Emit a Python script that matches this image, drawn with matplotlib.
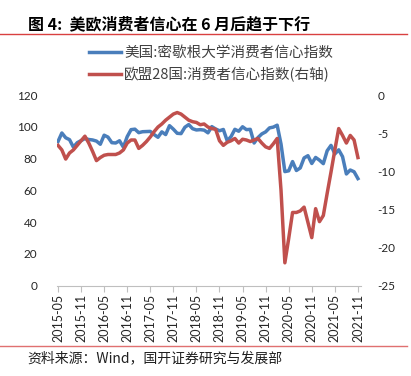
import numpy as np
import matplotlib
matplotlib.use('Agg')
import matplotlib.pyplot as plt
from matplotlib.lines import Line2D
from matplotlib.ticker import FuncFormatter

plt.rcParams['font.family'] = ['Lato', 'Noto Sans CJK SC', 'DejaVu Sans']
plt.rcParams['axes.unicode_minus'] = False

# 美国：密歇根大学消费者信心指数 (2015-05 ~ 2021-11, 月度)
us_sentiment = [90.7, 96.1, 93.1, 91.9, 87.2, 90.0, 91.3, 92.6,
                92.0, 91.7, 91.0, 89.0, 94.7, 93.5, 90.0, 89.8, 91.2, 87.2, 93.8, 98.2,
                98.5, 96.3, 96.9, 97.0, 97.1, 95.1, 93.4, 96.8, 95.1, 100.7, 98.5, 95.9,
                95.7, 99.7, 101.4, 98.8, 98.0, 98.2, 97.9, 96.2, 100.1, 98.6, 97.5, 98.3,
                91.2, 93.8, 98.4, 97.2, 100.0, 98.2, 98.4, 89.8, 93.2, 95.5, 96.8, 99.3,
                99.8, 101.0, 89.1, 71.8, 72.3, 78.1, 72.5, 74.1, 80.4, 81.8, 76.9, 80.7,
                79.0, 76.8, 84.9, 88.3, 82.9, 85.5, 81.2, 70.3, 72.8, 71.7, 67.4]

# 欧盟28国：消费者信心指数 (右轴)
eu_confidence = [-6.6, -7.2, -8.4, -7.6, -7.2, -6.6, -6.0, -5.4,
                 -6.3, -7.4, -8.6, -8.2, -7.9, -7.8, -7.8, -7.8, -7.6, -7.2, -6.3, -5.9,
                 -5.9, -7.0, -6.6, -6.1, -5.5, -4.8, -4.2, -3.8, -3.3, -2.9, -2.5, -2.3,
                 -2.5, -2.9, -3.3, -3.5, -3.6, -3.9, -3.8, -4.2, -4.4, -4.5, -6.0, -6.6,
                 -6.2, -6.0, -5.7, -6.3, -5.8, -5.9, -6.1, -5.9, -5.7, -6.3, -6.8, -7.0,
                 -6.4, -5.7, -12.5, -22.0, -18.8, -15.4, -15.4, -15.2, -14.7, -16.7, -18.7, -14.9,
                 -16.6, -15.8, -12.9, -10.1, -7.2, -4.4, -5.3, -6.3, -5.3, -5.9, -8.2]

tick_labels = ['2015-05', '2015-11', '2016-05', '2016-11', '2017-05', '2017-11', '2018-05',
               '2018-11', '2019-05', '2019-11', '2020-05', '2020-11', '2021-05', '2021-11']

blue = '#4A7EBB'
red = '#C0504D'
W, H = 411, 376

fig = plt.figure(figsize=(W / 100, H / 100), dpi=100)
ax = fig.add_axes([57 / W, 1 - 285.7 / H, (361 - 57) / W, (285.7 - 95) / H])
ax2 = ax.twinx()

x = np.arange(len(us_sentiment))
l1, = ax.plot(x, us_sentiment, color=blue, lw=2.5, solid_joinstyle='round')
l2, = ax2.plot(x, eu_confidence, color=red, lw=2.5, solid_joinstyle='round')

ax.set_xlim(-0.26, 78.8)
ax.set_ylim(0, 120)
ax.set_yticks(range(0, 121, 20))
ax2.set_ylim(-25, 0)
ax2.set_yticks(range(-25, 1, 5))
ax2.yaxis.set_major_formatter(FuncFormatter(lambda v, p: '%d' % v))

ax.set_xticks(np.arange(0, len(us_sentiment), 6))
ax.set_xticklabels(tick_labels, rotation=90, fontsize=9)

for a in (ax, ax2):
    for s in a.spines.values():
        s.set_visible(False)
ax.spines['bottom'].set_visible(True)
ax.spines['bottom'].set_color('#BFBFBF')
ax.tick_params(axis='x', direction='out', length=4, color='#BFBFBF', pad=2, labelcolor='#262626')
ax.tick_params(axis='y', length=0, pad=14, labelsize=8.5, labelcolor='#262626')
ax2.tick_params(axis='y', length=0, pad=12, labelsize=8.5, labelcolor='#262626')

fig.legend([l1, l2], ['美国:密歇根大学消费者信心指数', '欧盟28国:消费者信心指数(右轴)'],
           loc='upper left', bbox_to_anchor=(89 / W, 1 - 46 / H), frameon=False,
           handlelength=2.2, handletextpad=0.2, labelspacing=0.45,
           borderpad=0, borderaxespad=0, prop={'family': ['Noto Sans CJK SC', 'DejaVu Sans'], 'size': 10.5},
           labelcolor='#404040')

fig.text(28 / W, 1 - 24 / H, '图 4:  美欧消费者信心在 6 月后趋于下行', fontsize=11.5,
         fontweight='bold', va='center', ha='left', family=['Noto Sans CJK SC', 'DejaVu Sans'])
fig.add_artist(Line2D([0, 407 / W], [1 - 34 / H] * 2, color='#D94040', lw=1))
fig.add_artist(Line2D([0, 407 / W], [1 - 346 / H] * 2, color='#E07070', lw=1))
fig.text(27 / W, 1 - 358 / H, '资料来源：Wind，国开证券研究与发展部', fontsize=10,
         va='center', ha='left', family=['Noto Sans CJK SC', 'DejaVu Sans'], color='#202020')

fig.savefig('out.png', dpi=100)
